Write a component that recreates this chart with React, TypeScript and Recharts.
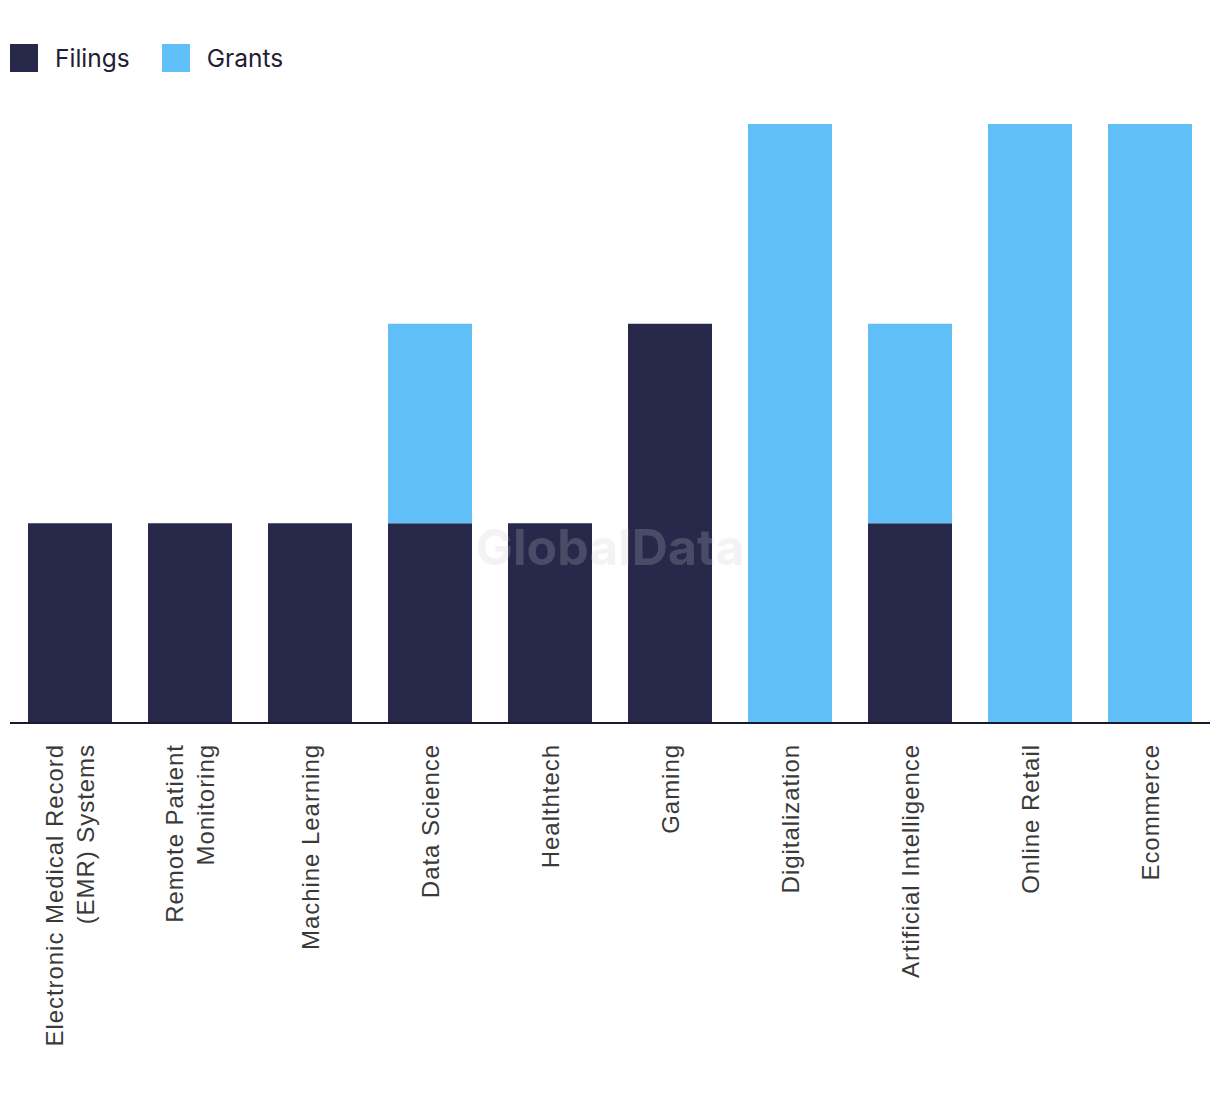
import React from "react";
import { BarChart, Bar, XAxis, YAxis, Legend } from "recharts";

const categories = [
  "Electronic Medical Record\n(EMR) Systems",
  "Remote Patient\nMonitoring",
  "Machine Learning",
  "Data Science",
  "Healthtech",
  "Gaming",
  "Digitalization",
  "Artificial Intelligence",
  "Online Retail",
  "Ecommerce",
];
const filings = [1, 1, 1, 1, 1, 2, 0, 1, 0, 0];
const grants = [0, 0, 0, 1, 0, 0, 3, 1, 3, 3];

const NAVY = "#27284A";
const BLUE = "#62C0F8";

const data = categories.map((c, i) => ({ name: c, Filings: filings[i], Grants: grants[i] }));

const Tick = (props: any) => {
  const { x, y, payload } = props;
  const lines = String(payload.value).split("\n");
  const n = lines.length;
  return (
    <g transform={`translate(${x},${y + 21}) rotate(-90)`}>
      <text
        textAnchor="end"
        fill="#3a3a3a"
        style={{ fontFamily: "'Liberation Sans', Arial, sans-serif", fontSize: 24, letterSpacing: 0.95 }}
      >
        {lines.map((l, i) => (
          <tspan key={i} x={0} y={(i - (n - 1) / 2) * 31} dy="0.36em">
            {l}
          </tspan>
        ))}
      </text>
    </g>
  );
};

const LegendContent = () => (
  <div style={{ display: "flex", alignItems: "center", fontFamily: "Inter, 'Noto Sans', sans-serif", fontSize: 24.5, color: "#1f2036" }}>
    {[
      { label: "Filings", color: NAVY },
      { label: "Grants", color: BLUE },
    ].map((it) => (
      <div key={it.label} style={{ display: "flex", alignItems: "center", marginRight: 32 }}>
        <div style={{ width: 28, height: 28, background: it.color, marginRight: 17 }} />
        <span>{it.label}</span>
      </div>
    ))}
  </div>
);

export default function App() {
  return (
    <div style={{ position: "absolute", left: 0, top: 0, width: 1220, height: 1094, background: "#fff" }}>
      <BarChart
        width={1220}
        height={1094}
        data={data}
        margin={{ top: 124, right: 10, left: 10, bottom: 0 }}
        barCategoryGap="15%"
      >
        <XAxis
          dataKey="name"
          interval={0}
          height={371}
          tickLine={false}
          tickSize={0}
          tickMargin={0}
          axisLine={{ stroke: "#1a1a2e", strokeWidth: 2 }}
          tick={<Tick />}
        />
        <YAxis hide domain={[0, 3]} />
        <Legend
          verticalAlign="middle"
          align="center"
          wrapperStyle={{ top: 43, left: 10, width: "auto" }}
          content={<LegendContent />}
        />
        <Bar dataKey="Filings" stackId="a" fill={NAVY} isAnimationActive={false} />
        <Bar dataKey="Grants" stackId="a" fill={BLUE} isAnimationActive={false} />
      </BarChart>
      <div
        style={{
          position: "absolute",
          left: 0,
          width: 1220,
          top: 517,
          textAlign: "center",
          fontFamily: "Inter, 'Noto Sans', sans-serif",
          fontWeight: 700,
          fontSize: 50,
          color: "rgba(200,200,210,0.22)",
          pointerEvents: "none",
        }}
      >
        GlobalData
      </div>
    </div>
  );
}
